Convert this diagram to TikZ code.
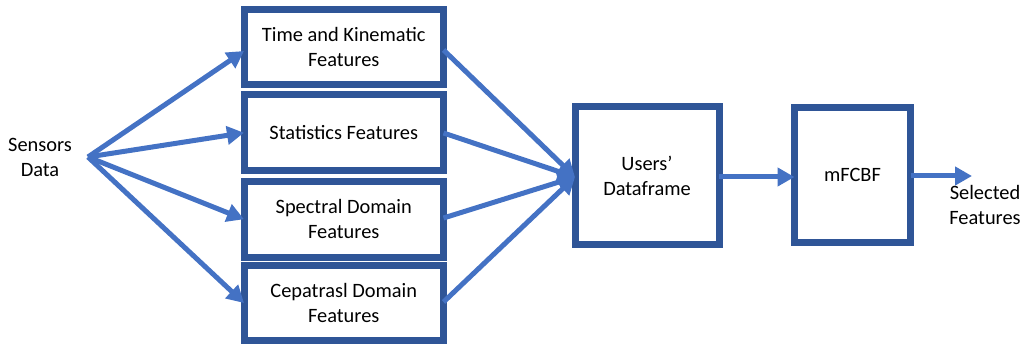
\documentclass[tikz,border=0pt]{standalone}
\usepackage{fontspec}
\setmainfont{Carlito}
\usetikzlibrary{arrows.meta,calc}
\definecolor{boxblue}{HTML}{2F5597}
\definecolor{arrblue}{HTML}{4472C4}
\begin{document}
\begin{tikzpicture}[x=1pt,y=-1pt,
  box/.style={draw=boxblue, line width=7pt, fill=white, outer sep=0pt, inner sep=2pt, align=center, font=\fontsize{20.4}{25}\selectfont},
  lbl/.style={align=center, font=\fontsize{20.4}{25}\selectfont},
  arr/.style={draw=arrblue, line width=5pt, -{Triangle[length=17pt,width=18pt]}}]
\useasboundingbox (0,0) rectangle (1024,347);
\node[box, minimum width=199.5pt, minimum height=75pt] (b1) at (343.75,47) {Time and Kinematic\\Features};
\node[box, minimum width=199.5pt, minimum height=76.5pt] (b2) at (343.75,132.75) {Statistics Features};
\node[box, minimum width=199.5pt, minimum height=75.5pt] (b3) at (343.75,219.25) {Spectral Domain\\Features};
\node[box, minimum width=199.5pt, minimum height=75pt] (b4) at (343.75,303) {Cepatrasl Domain\\Features};
\node[box, minimum width=144pt, minimum height=137pt] (df) at (647,175.5) {Users’\\Dataframe};
\node[box, minimum width=116pt, minimum height=134.5pt] (mf) at (852.5,174.75) {mFCBF};
\node[lbl] (sd) at (40,157) {Sensors\\Data};
\node[lbl] (sf) at (985,205) {Selected\\Features};
\coordinate (src) at (88,157);
\coordinate (dfin) at ($(df.west)+(0,1.5)$);
\coordinate (out) at (972,176);
\draw[arr] (src) -- ($(b1.west)+(0,4)$);
\draw[arr] (src) -- (b2.west);
\draw[arr] (src) -- (b3.west);
\draw[arr] (src) -- (b4.west);
\draw[arr] ($(b1.east)+(0,3)$) -- (dfin);
\draw[arr] ($(b2.east)+(0,0.25)$) -- (dfin);
\draw[arr] ($(b3.east)+(0,-1.25)$) -- (dfin);
\draw[arr] ($(b4.east)+(0,-1)$) -- (dfin);
\draw[arr] ($(df.east)+(0,1.5)$) -- ($(mf.west)+(0,2.25)$);
\draw[arr] ($(mf.east)+(0,1.25)$) -- (out);
\end{tikzpicture}
\end{document}
